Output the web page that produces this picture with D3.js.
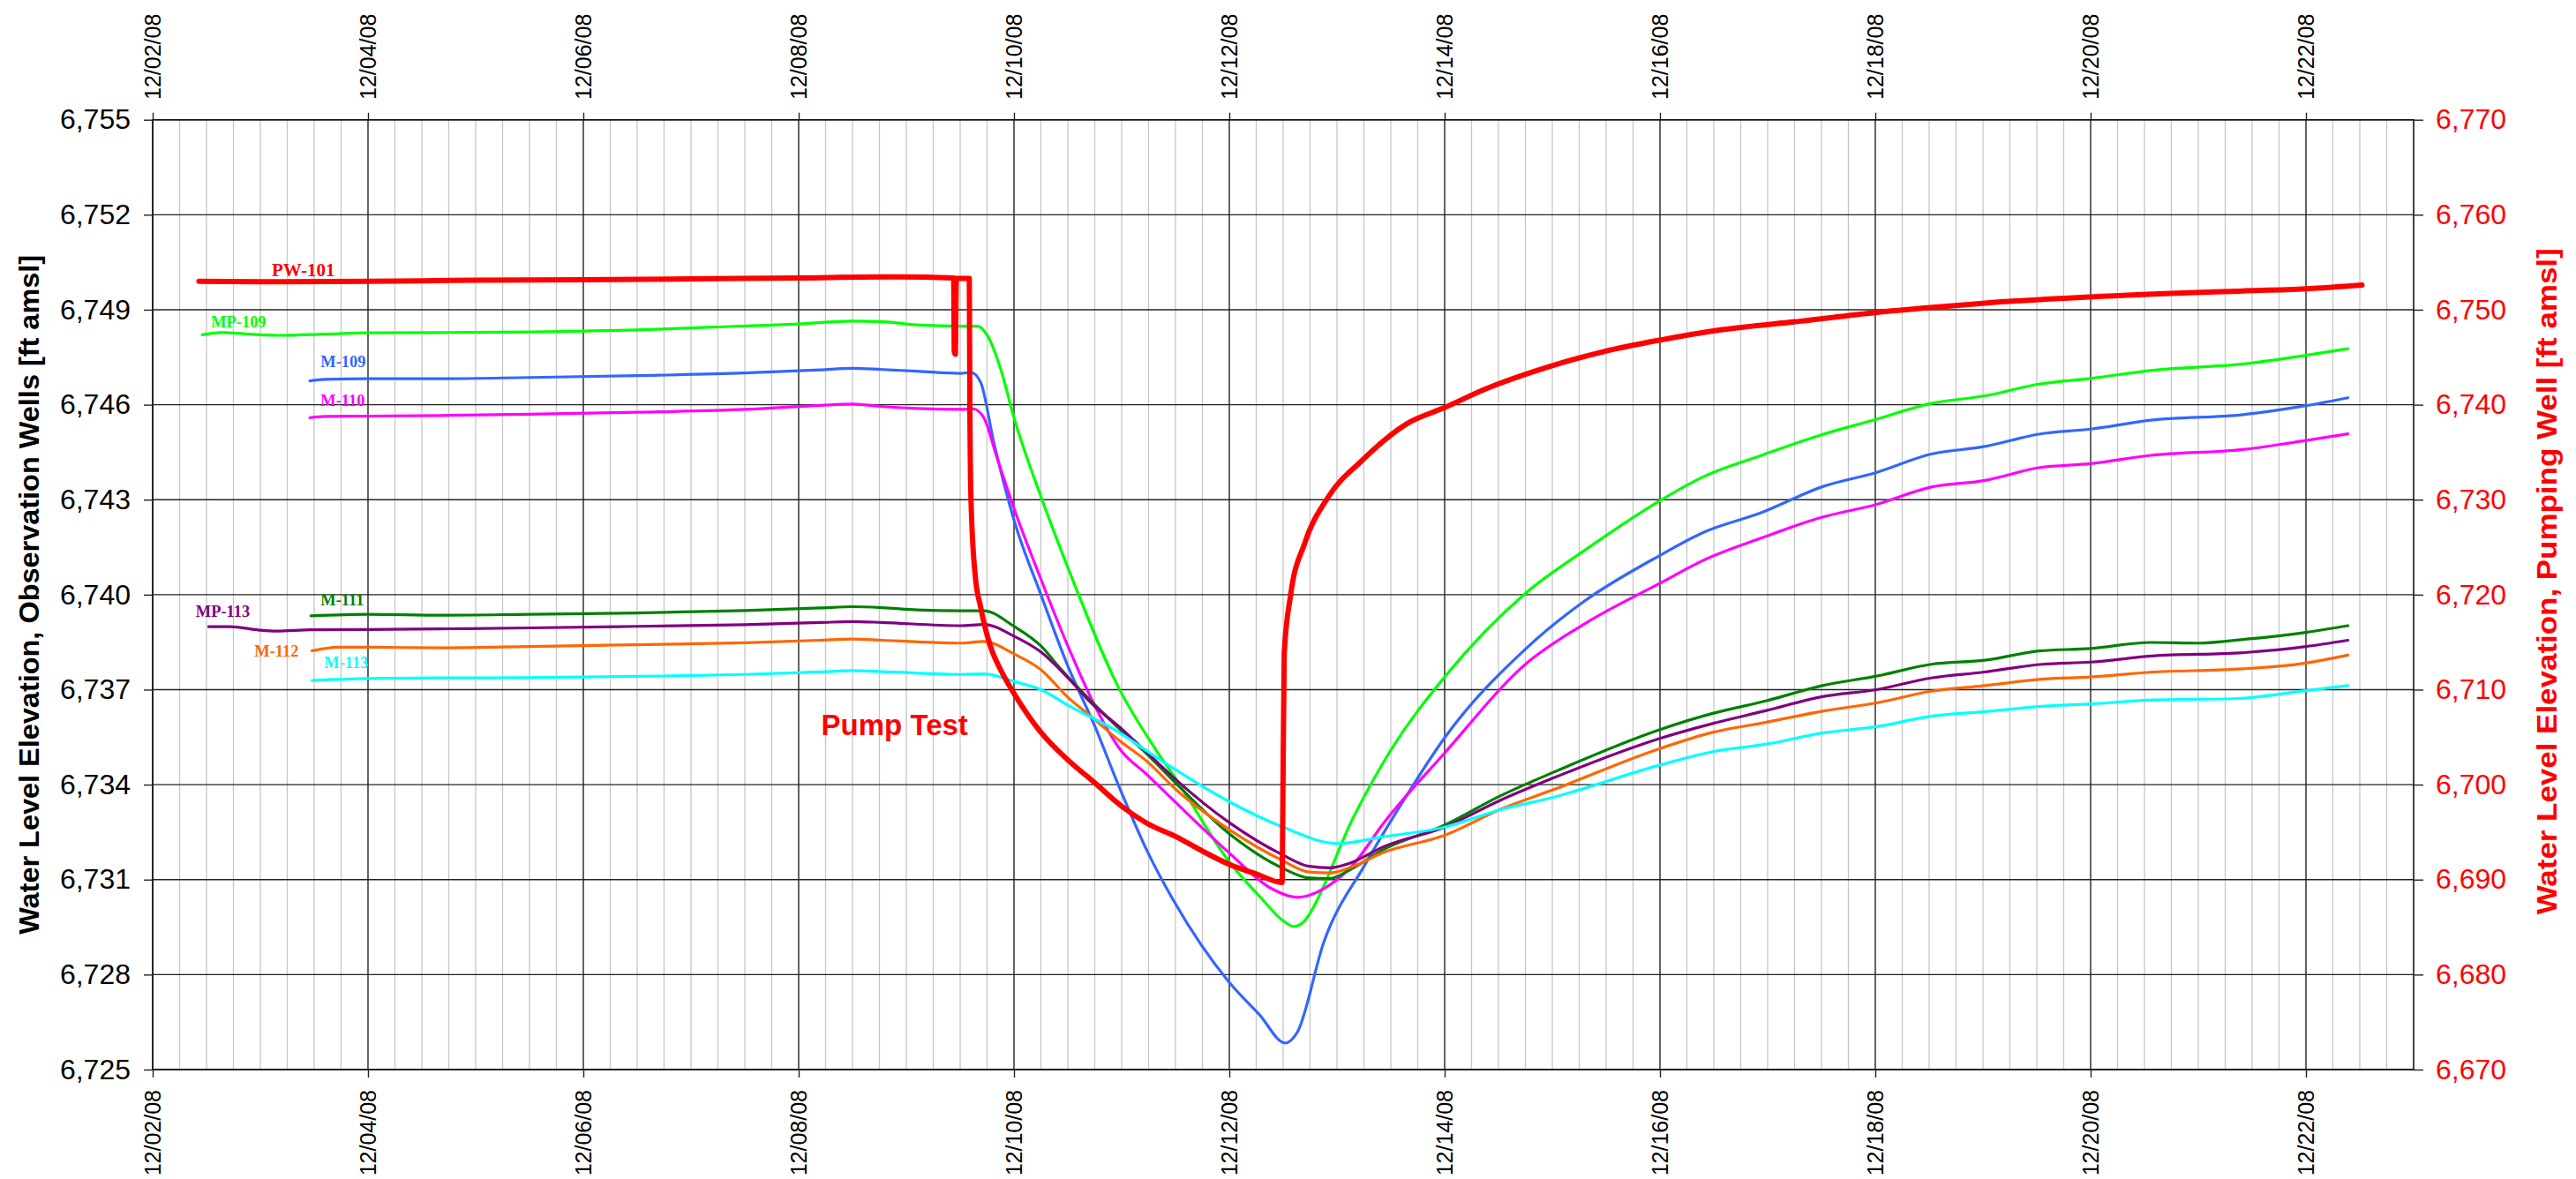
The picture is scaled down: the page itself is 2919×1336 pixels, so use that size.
<!DOCTYPE html>
<html>
<head>
<meta charset="utf-8">
<script src="https://cdn.jsdelivr.net/npm/d3@7"></script>
<style>
  body { margin: 0; background: #fff; }
  text { font-family: "Liberation Sans", Arial, sans-serif; }
</style>
</head>
<body>
<script>
//place script in anon function
(function(){

// series data: [days since 12/02/08, water level ft amsl]
// pumping well (right axis)
var pw101 = [[0.43,6753.0],[1.0,6752.95],[2.0,6753.0],[3.0,6753.1],[4.0,6753.15],[5.0,6753.25],[6.0,6753.35],[6.8,6753.45],[7.44,6753.35],[7.445,6745.6],[7.455,6745.3],[7.465,6753.3],[7.585,6753.3],[7.59,6740.0],[7.60,6730.3],[7.64,6722.0],[7.69,6718.7],[7.78,6714.6],[7.88,6712.0],[8.0,6709.6],[8.25,6705.5],[8.5,6702.6],[8.75,6700.2],[8.97,6698.0],[9.24,6695.9],[9.51,6694.5],[9.75,6693.0],[10.0,6691.6],[10.25,6690.6],[10.49,6689.7],[10.495,6694.7],[10.51,6713.8],[10.57,6720.0],[10.70,6725.4],[10.92,6730.3],[11.23,6734.1],[11.65,6738.0],[12.0,6739.7],[12.39,6741.7],[12.94,6743.9],[13.48,6745.6],[14.0,6746.8],[14.58,6747.9],[15.31,6748.8],[16.0,6749.7],[16.59,6750.3],[17.02,6750.7],[18.0,6751.35],[19.34,6751.95],[20.0,6752.2],[20.52,6752.6]];

// observation wells (left axis)
var mp109 = [[0.46,6748.21],[0.63,6748.28],[0.85,6748.24],[1.0,6748.21],[1.2,6748.19],[1.6,6748.23],[2.0,6748.27],[2.68,6748.28],[3.5,6748.3],[4.5,6748.36],[5.2,6748.45],[6.0,6748.55],[6.5,6748.64],[6.8,6748.62],[7.09,6748.52],[7.5,6748.48],[7.66,6748.48],[7.75,6748.2],[7.88,6747.09],[8.0,6745.59],[8.25,6743.10],[8.5,6740.86],[8.98,6737.01],[9.32,6735.09],[9.51,6734.15],[10.0,6731.56],[10.3,6730.4],[10.5,6729.7],[10.6,6729.52],[10.7,6729.7],[10.74,6729.89],[11.15,6732.95],[11.5,6735.09],[12.0,6737.40],[12.75,6740.04],[13.3,6741.40],[14.0,6742.97],[14.4,6743.72],[14.95,6744.41],[15.5,6745.05],[16.0,6745.53],[16.52,6746.04],[17.02,6746.28],[17.52,6746.65],[18.0,6746.83],[18.56,6747.08],[19.43,6747.29],[20.0,6747.56],[20.39,6747.77]];
var m109 = [[1.46,6746.75],[1.6,6746.80],[2.0,6746.82],[2.68,6746.82],[3.5,6746.86],[4.5,6746.92],[5.5,6747.0],[6.2,6747.1],[6.5,6747.15],[6.78,6747.11],[7.1,6747.06],[7.5,6746.99],[7.60,6747.02],[7.69,6746.71],[7.81,6744.85],[8.0,6742.36],[8.25,6740.0],[8.5,6737.75],[8.75,6735.85],[8.98,6733.9],[9.24,6731.88],[9.48,6730.35],[10.0,6727.75],[10.28,6726.73],[10.52,6725.84],[10.63,6726.17],[10.88,6729.05],[11.26,6731.47],[11.6,6733.4],[12.0,6735.48],[12.75,6738.28],[13.3,6739.80],[14.0,6741.24],[14.4,6741.96],[14.95,6742.60],[15.5,6743.40],[16.0,6743.85],[16.52,6744.44],[17.02,6744.68],[17.52,6745.07],[18.0,6745.23],[18.56,6745.51],[19.43,6745.69],[20.0,6745.97],[20.39,6746.22]];
var m110 = [[1.46,6745.59],[1.6,6745.63],[2.0,6745.64],[2.68,6745.66],[3.5,6745.7],[4.5,6745.76],[5.5,6745.85],[6.2,6745.98],[6.5,6746.02],[6.78,6745.94],[7.1,6745.88],[7.53,6745.85],[7.62,6745.87],[7.72,6745.59],[7.84,6744.35],[8.0,6742.73],[8.25,6740.49],[8.5,6738.38],[8.75,6736.5],[8.98,6735.14],[9.24,6734.3],[9.48,6733.51],[10.0,6731.84],[10.39,6730.72],[10.63,6730.44],[10.88,6730.72],[11.15,6731.47],[11.43,6732.77],[12.0,6735.0],[12.75,6737.80],[13.3,6739.08],[14.0,6740.36],[14.4,6741.08],[14.95,6741.80],[15.5,6742.44],[16.0,6742.84],[16.52,6743.40],[17.02,6743.61],[17.52,6744.01],[18.0,6744.14],[18.56,6744.40],[19.43,6744.59],[20.0,6744.87],[20.39,6745.08]];
var m111 = [[1.47,6739.33],[2.0,6739.38],[2.68,6739.35],[3.5,6739.38],[4.5,6739.42],[5.5,6739.5],[6.2,6739.58],[6.5,6739.62],[6.78,6739.59],[7.1,6739.52],[7.5,6739.49],[7.72,6739.49],[8.0,6739.0],[8.25,6738.38],[8.44,6737.63],[8.72,6736.63],[8.98,6735.76],[9.24,6734.95],[9.51,6734.02],[10.0,6732.45],[10.49,6731.37],[10.74,6731.05],[10.93,6731.03],[11.15,6731.37],[11.42,6731.93],[12.0,6732.72],[12.52,6733.65],[13.01,6734.39],[14.0,6735.74],[14.49,6736.25],[14.99,6736.65],[15.51,6737.13],[16.0,6737.42],[16.52,6737.80],[17.02,6737.93],[17.52,6738.22],[18.0,6738.30],[18.56,6738.49],[19.0,6738.47],[19.43,6738.59],[20.0,6738.81],[20.39,6739.02]];
var mp113 = [[0.52,6738.99],[0.72,6738.99],[0.99,6738.88],[1.15,6738.85],[1.47,6738.89],[2.0,6738.90],[2.68,6738.92],[3.5,6738.95],[4.5,6739.0],[5.5,6739.05],[6.2,6739.12],[6.5,6739.15],[6.78,6739.12],[7.5,6739.02],[7.72,6739.06],[8.0,6738.69],[8.25,6738.19],[8.5,6737.38],[8.72,6736.57],[8.98,6735.82],[9.24,6735.0],[9.51,6734.14],[10.0,6732.8],[10.49,6731.79],[10.74,6731.42],[10.93,6731.37],[11.15,6731.56],[11.42,6732.02],[12.0,6732.66],[12.52,6733.51],[13.01,6734.21],[14.0,6735.46],[14.49,6735.93],[14.99,6736.34],[15.51,6736.78],[16.01,6737.0],[16.52,6737.37],[17.0,6737.55],[17.55,6737.8],[18.0,6737.87],[18.56,6738.06],[19.43,6738.17],[20.0,6738.36],[20.39,6738.56]];
var m112 = [[1.48,6738.23],[1.6,6738.30],[1.73,6738.34],[2.0,6738.34],[2.68,6738.32],[3.5,6738.36],[4.5,6738.42],[5.5,6738.48],[6.2,6738.56],[6.5,6738.6],[6.78,6738.56],[7.5,6738.47],[7.72,6738.52],[8.0,6738.13],[8.25,6737.63],[8.5,6736.76],[8.72,6736.14],[8.98,6735.39],[9.24,6734.72],[9.51,6733.83],[10.0,6732.58],[10.49,6731.61],[10.74,6731.24],[10.93,6731.21],[11.15,6731.42],[11.42,6731.84],[12.0,6732.40],[12.52,6733.22],[13.01,6733.84],[14.0,6735.14],[14.49,6735.65],[14.99,6735.97],[15.51,6736.32],[16.01,6736.58],[16.52,6736.95],[17.0,6737.12],[17.57,6737.34],[18.0,6737.40],[18.55,6737.55],[19.37,6737.65],[20.0,6737.84],[20.39,6738.09]];
var m113 = [[1.48,6737.29],[2.0,6737.35],[2.68,6737.37],[3.5,6737.38],[4.5,6737.42],[5.5,6737.48],[6.2,6737.56],[6.5,6737.6],[6.78,6737.57],[7.5,6737.48],[7.72,6737.50],[8.0,6737.26],[8.25,6737.0],[8.5,6736.51],[8.98,6735.64],[9.24,6735.05],[9.51,6734.45],[10.0,6733.46],[10.49,6732.67],[11.01,6732.14],[11.42,6732.35],[12.0,6732.66],[12.52,6733.21],[13.01,6733.60],[14.0,6734.62],[14.49,6735.04],[14.99,6735.28],[15.51,6735.63],[16.01,6735.83],[16.52,6736.16],[17.0,6736.3],[17.57,6736.48],[18.0,6736.55],[18.55,6736.67],[19.37,6736.72],[20.0,6736.97],[20.39,6737.13]];

// series names, colors and which axis they belong to
var seriesNames = ["MP-109", "M-109", "M-110", "M-111", "MP-113", "M-112", "M-113", "PW-101"];
var seriesColors = ["#00FF00", "#3366FF", "#FF00FF", "#008000", "#800080", "#FF6600", "#00FFFF", "#FF0000"];
var seriesData = [mp109, m109, m110, m111, mp113, m112, m113, pw101];

// in-chart labels: [day, value] anchor (PW-101 on right axis)
var labelText = ["PW-101", "MP-109", "M-109", "M-110", "M-111", "MP-113", "M-112", "M-113", "Pump Test"];
var labelAnchor = [[1.107,6753.57],[0.543,6748.45],[1.56,6747.20],[1.56,6745.96],[1.56,6739.66],[0.40,6739.29],[0.945,6738.04],[1.593,6737.67],[6.21,6735.55]];
var labelColors = ["#FF0000", "#00FF00", "#3366FF", "#FF00FF", "#008000", "#800080", "#FF6600", "#00FFFF", "#FF0000"];

// axis ticks
var xTickDays = d3.range(0, 21, 2);
var yLeftTicks = d3.range(6725, 6756, 3);
var yRightTicks = d3.range(6670, 6771, 10);

// chart dimensions
var width = 2919,
    height = 1336,
    margin = {top: 135.7, right: 184, bottom: 124, left: 173},
    innerWidth = width - margin.left - margin.right,
    innerHeight = height - margin.top - margin.bottom;

var startDate = Date.UTC(2008, 11, 2);
function toDate(day){
    return new Date(startDate + day * 86400000);
};

// scales
var x = d3.scaleUtc()
    .domain([toDate(0), toDate(21)])
    .range([0, innerWidth]);
var yLeft = d3.scaleLinear()
    .domain([6725, 6755])
    .range([innerHeight, 0]);
var yRight = d3.scaleLinear()
    .domain([6670, 6770])
    .range([innerHeight, 0]);

window.onload = setChart();

function setChart(){
    var svg = d3.select("body")
        .append("svg")
        .attr("width", width)
        .attr("height", height);

    var g = svg.append("g")
        .attr("transform", "translate(" + margin.left + "," + margin.top + ")");

    drawGrid(g);
    drawAxes(g);
    drawSeries(g);
    drawLabels(g, svg);
}; // end setChart

function drawGrid(g){
    // minor gridlines every 6 hours
    var minorDays = d3.range(0, 21.01, 0.25).filter(function(d){
        return d % 2 != 0;
    });
    g.selectAll(".minor")
        .data(minorDays)
        .enter()
        .append("line")
        .attr("class", "minor")
        .attr("x1", function(d){ return x(toDate(d)); })
        .attr("x2", function(d){ return x(toDate(d)); })
        .attr("y1", 0)
        .attr("y2", innerHeight)
        .style("stroke", "#c6c6c6")
        .style("stroke-width", 1.3);

    // major vertical gridlines
    g.selectAll(".vmajor")
        .data(xTickDays)
        .enter()
        .append("line")
        .attr("class", "vmajor")
        .attr("x1", function(d){ return x(toDate(d)); })
        .attr("x2", function(d){ return x(toDate(d)); })
        .attr("y1", 0)
        .attr("y2", innerHeight)
        .style("stroke", "#222")
        .style("stroke-width", 1.4);

    // horizontal gridlines
    g.selectAll(".hgrid")
        .data(yLeftTicks)
        .enter()
        .append("line")
        .attr("class", "hgrid")
        .attr("x1", 0)
        .attr("x2", innerWidth)
        .attr("y1", function(d){ return yLeft(d); })
        .attr("y2", function(d){ return yLeft(d); })
        .style("stroke", "#222")
        .style("stroke-width", 1.4);

    // frame
    g.append("rect")
        .attr("width", innerWidth)
        .attr("height", innerHeight)
        .style("fill", "none")
        .style("stroke", "#111")
        .style("stroke-width", 1.5);
}; // end drawGrid

function drawAxes(g){
    var fmtDate = d3.utcFormat("%m/%d/%y");
    var tickDates = xTickDays.map(toDate);

    // top axis
    var top = g.append("g")
        .call(d3.axisTop(x).tickValues(tickDates).tickFormat(fmtDate).tickSize(8).tickSizeOuter(0));
    top.selectAll("text")
        .attr("transform", "rotate(-90)")
        .attr("x", 22.7)
        .attr("y", 0)
        .attr("dy", "0.35em")
        .style("text-anchor", "start");

    // bottom axis
    var bottom = g.append("g")
        .attr("transform", "translate(0," + innerHeight + ")")
        .call(d3.axisBottom(x).tickValues(tickDates).tickFormat(fmtDate).tickSize(9).tickSizeOuter(0));
    bottom.selectAll("text")
        .attr("transform", "rotate(-90)")
        .attr("x", -23)
        .attr("y", 0)
        .attr("dy", "0.35em")
        .style("text-anchor", "end");

    [top, bottom].forEach(function(ax){
        ax.selectAll("text").style("font-size", "25px").style("fill", "#000");
    });

    // left axis
    var left = g.append("g")
        .call(d3.axisLeft(yLeft).tickValues(yLeftTicks).tickFormat(d3.format(",")).tickSize(10).tickPadding(15).tickSizeOuter(0));
    left.selectAll("text")
        .style("font-size", "32px")
        .style("fill", "#000");

    // right axis
    var right = g.append("g")
        .attr("transform", "translate(" + innerWidth + ",0)")
        .call(d3.axisRight(yRight).tickValues(yRightTicks).tickFormat(d3.format(",")).tickSize(11).tickPadding(14).tickSizeOuter(0));
    right.selectAll("text")
        .style("font-size", "32px")
        .style("fill", "#FF0000");

    [top, bottom, left, right].forEach(function(ax){
        ax.select(".domain").remove();
        ax.selectAll(".tick line").style("stroke", "#222").style("stroke-width", 1.4);
    });
}; // end drawAxes

function drawSeries(g){
    seriesData.forEach(function(data, i){
        var yScale = seriesNames[i] == "PW-101" ? yRight : yLeft;
        var line = d3.line()
            .x(function(d){ return x(toDate(d[0])); })
            .y(function(d){ return yScale(d[1]); })
            .curve(d3.curveMonotoneX);

        g.append("path")
            .datum(data)
            .attr("class", "series " + seriesNames[i])
            .attr("d", line)
            .style("fill", "none")
            .style("stroke", seriesColors[i])
            .style("stroke-width", seriesNames[i] == "PW-101" ? 6 : 3.2)
            .style("stroke-linejoin", "round")
            .style("stroke-linecap", "round");
    });
}; // end drawSeries

function drawLabels(g, svg){
    labelText.forEach(function(t, i){
        var onRight = (t == "PW-101");
        var yScale = onRight ? yRight : yLeft;
        var isPump = (t == "Pump Test");
        g.append("text")
            .attr("x", x(toDate(labelAnchor[i][0])))
            .attr("y", yScale(labelAnchor[i][1]))
            .text(t)
            .style("font-family", isPump ? "'Liberation Sans', Arial, sans-serif" : "'Liberation Serif', 'Times New Roman', serif")
            .style("font-weight", "bold")
            .style("font-size", isPump ? "33px" : (onRight ? "21px" : "18.4px"))
            .style("fill", labelColors[i]);
    });

    // axis titles
    svg.append("text")
        .attr("transform", "translate(33," + (margin.top + innerHeight / 2) + ") rotate(-90)")
        .attr("text-anchor", "middle")
        .attr("dy", "0.35em")
        .attr("textLength", 770)
        .attr("lengthAdjust", "spacingAndGlyphs")
        .style("font-size", "31px")
        .style("font-weight", "bold")
        .style("fill", "#000")
        .text("Water Level Elevation, Observation Wells [ft amsl]");

    svg.append("text")
        .attr("transform", "translate(2886," + (margin.top + innerHeight / 2 - 15) + ") rotate(-90)")
        .attr("text-anchor", "middle")
        .attr("dy", "0.35em")
        .attr("textLength", 755)
        .attr("lengthAdjust", "spacingAndGlyphs")
        .style("font-size", "31px")
        .style("font-weight", "bold")
        .style("fill", "#FF0000")
        .text("Water Level Elevation, Pumping Well [ft amsl]");
}; // end drawLabels

})();
</script>
</body>
</html>
